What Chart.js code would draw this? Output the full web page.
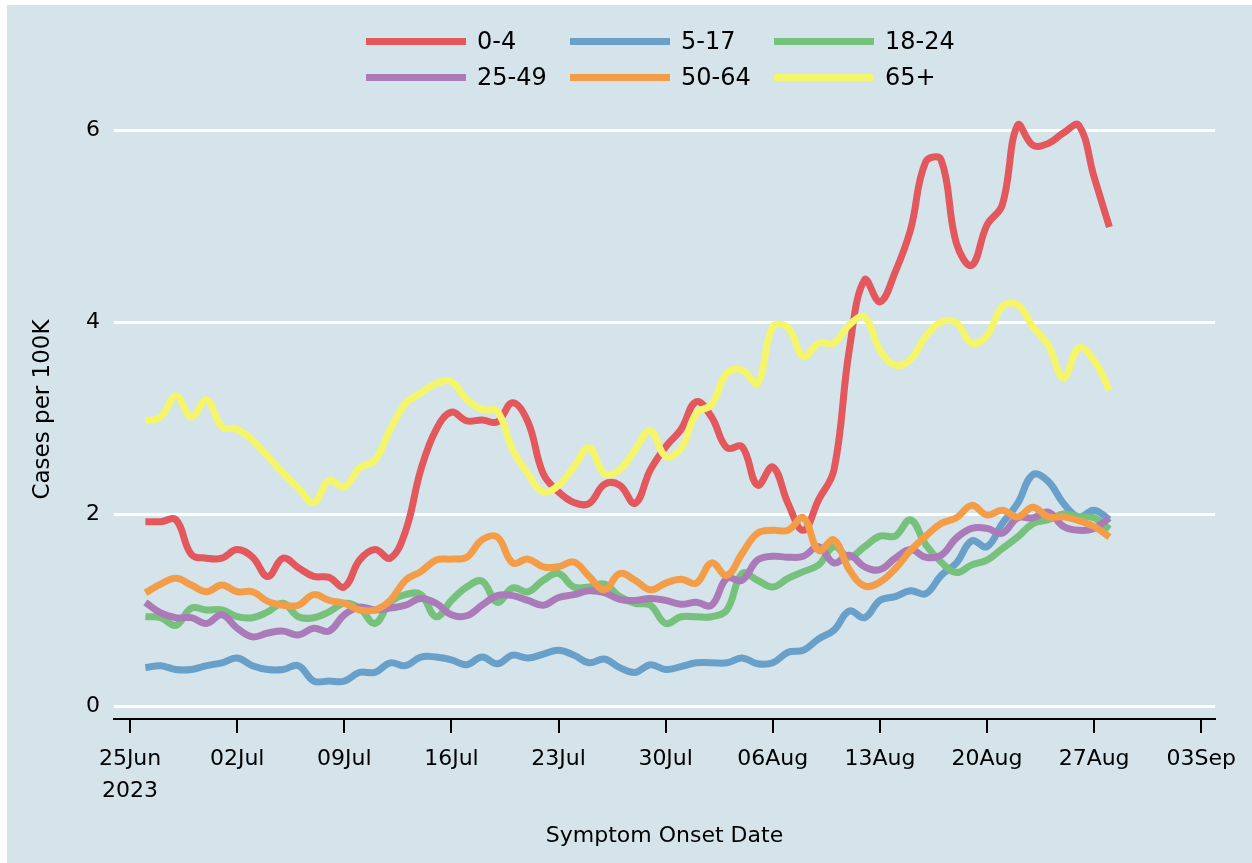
<!DOCTYPE html>
<html>
<head>
<meta charset="utf-8">
<script src="https://cdn.jsdelivr.net/npm/chart.js@4.4.1/dist/chart.umd.min.js"></script>
<style>
    html, body { margin: 0; padding: 0; background: #fff; }
    #frame { position: absolute; left: 7px; top: 5px; width: 1245px; height: 858px; background: #d5e3ea; }
    #chart { position: absolute; left: 0; top: 0; }
    #legend { position: absolute; left: 359px; top: 18px; display: grid; grid-template-columns: 204px 204px 204px; }
    .item { display: flex; align-items: center; height: 36px; }
    .swatch { width: 100px; height: 7px; margin-right: 11px; }
    .item span { font: 24px "DejaVu Sans"; color: #000; }
</style>
</head>
<body>
<div id="frame">
    <canvas id="chart" width="1245" height="858"></canvas>
    <div id="legend"></div>
</div>
<script>
// day offsets from 25Jun2023; data runs 26Jun .. 28Aug
const firstDay = 1;

const groups = ['0-4', '5-17', '18-24', '25-49', '50-64', '65+'];
const colors = ['#e2585c', '#68a0ca', '#76c17b', '#aa7bb8', '#f49d48', '#f4f56b'];

const age0_4 = [1.92,1.92,1.94,1.58,1.54,1.54,1.63,1.55,1.35,1.54, 1.44,1.35,1.34,1.24,1.52,1.63,1.54,1.82,2.46,2.88, 3.06,2.97,2.98,2.96,3.16,2.96,2.42,2.23,2.12,2.11, 2.31,2.30,2.11,2.46,2.70,2.88,3.17,3.01,2.69,2.70, 2.30,2.49,2.11,1.83,2.15,2.46,3.71,4.44,4.21,4.52, 4.96,5.67,5.69,4.82,4.59,5.01,5.22,6.05,5.84,5.86, 5.97,6.05,5.51,4.99];
const age5_17 = [0.40,0.42,0.38,0.38,0.42,0.45,0.50,0.42,0.38,0.38, 0.42,0.26,0.26,0.26,0.35,0.35,0.45,0.42,0.51,0.51, 0.48,0.43,0.51,0.44,0.53,0.50,0.54,0.58,0.53,0.45, 0.49,0.40,0.35,0.43,0.38,0.41,0.45,0.45,0.45,0.50, 0.44,0.45,0.56,0.58,0.70,0.79,0.99,0.92,1.10,1.14, 1.20,1.17,1.36,1.49,1.72,1.66,1.90,2.11,2.41,2.34, 2.11,1.97,2.04,1.94];
const age18_24 = [0.93,0.92,0.84,1.02,1.00,1.00,0.93,0.92,0.98,1.07, 0.93,0.92,0.98,1.07,1.02,0.86,1.08,1.16,1.16,0.93, 1.10,1.24,1.30,1.08,1.23,1.19,1.31,1.38,1.24,1.24, 1.27,1.14,1.07,1.05,0.86,0.93,0.93,0.93,1.00,1.38, 1.31,1.24,1.33,1.40,1.47,1.66,1.55,1.66,1.77,1.77, 1.94,1.68,1.50,1.39,1.47,1.52,1.64,1.76,1.90,1.94, 2.00,1.97,1.96,1.84];
const age25_49 = [1.08,0.97,0.92,0.92,0.86,0.95,0.81,0.72,0.76,0.78, 0.74,0.81,0.78,0.95,1.03,1.00,1.02,1.05,1.12,1.07, 0.95,0.94,1.05,1.15,1.15,1.10,1.05,1.13,1.16,1.20, 1.18,1.11,1.10,1.12,1.10,1.06,1.08,1.05,1.33,1.31, 1.52,1.56,1.55,1.56,1.66,1.49,1.57,1.45,1.42,1.54, 1.63,1.55,1.57,1.75,1.85,1.85,1.80,1.96,1.96,2.02, 1.87,1.83,1.85,1.96];
const age50_64 = [1.18,1.27,1.33,1.26,1.19,1.26,1.19,1.19,1.09,1.05, 1.05,1.16,1.10,1.07,1.00,1.00,1.10,1.31,1.40,1.52, 1.53,1.55,1.73,1.76,1.49,1.53,1.45,1.45,1.50,1.35, 1.21,1.38,1.31,1.21,1.28,1.32,1.28,1.49,1.36,1.59, 1.80,1.83,1.83,1.96,1.62,1.73,1.42,1.25,1.29,1.43, 1.62,1.77,1.90,1.96,2.09,1.99,2.04,1.97,2.07,1.97, 1.97,1.93,1.87,1.76];
const age65 = [2.97,3.01,3.23,3.01,3.19,2.91,2.88,2.77,2.60,2.43, 2.27,2.12,2.35,2.28,2.48,2.56,2.88,3.15,3.26,3.36, 3.38,3.19,3.09,3.07,2.67,2.42,2.23,2.30,2.49,2.69, 2.42,2.46,2.67,2.87,2.60,2.68,3.05,3.14,3.47,3.50, 3.36,3.95,3.94,3.64,3.78,3.78,3.97,4.05,3.71,3.55, 3.61,3.85,4.00,3.99,3.78,3.86,4.16,4.18,3.95,3.76, 3.42,3.73,3.60,3.29];

const series = [age0_4, age5_17, age18_24, age25_49, age50_64, age65];

const xTicks = [0, 7, 14, 21, 28, 35, 42, 49, 56, 63, 70];
const xTickLabels = [['25Jun', '2023'], '02Jul', '09Jul', '16Jul', '23Jul', '30Jul', '06Aug', '13Aug', '20Aug', '27Aug', '03Sep'];
const yTicks = [0, 2, 4, 6];

const font = "DejaVu Sans";

// legend (html)
const legend = document.getElementById("legend");
groups.forEach((g, i) => {
    const it = document.createElement("div");
    it.className = "item";
    it.innerHTML = '<div class="swatch" style="background:' + colors[i] + '"></div><span>' + g + '</span>';
    legend.appendChild(it);
});

const datasets = series.map((vals, i) => ({
    label: groups[i],
    data: vals.map((v, j) => ({ x: firstDay + j, y: v })),
    borderColor: colors[i],
    borderWidth: 7,
    pointRadius: 0,
    tension: 0.4,
    fill: false,
    borderJoinStyle: 'round',
    order: -i
}));

const ctx = document.getElementById("chart").getContext("2d");
new Chart(ctx, {
    type: 'line',
    data: { datasets: datasets },
    options: {
        responsive: false,
        animation: false,
        events: [],
        layout: { padding: { top: 95, right: 37, left: 0, bottom: 0 } },
        plugins: { legend: { display: false }, tooltip: { enabled: false } },
        scales: {
            x: {
                type: 'linear',
                min: -1.05,
                max: 70.9,
                afterBuildTicks: s => { s.ticks = xTicks.map(v => ({ value: v })); },
                afterFit: s => { s.height = 144; },
                grid: { drawOnChartArea: false, drawTicks: true, tickLength: 14, color: '#000', lineWidth: 2 },
                border: { display: true, color: '#000', width: 2 },
                ticks: {
                    padding: 10, color: '#000', maxRotation: 0, autoSkip: false,
                    font: { family: font, size: 22, lineHeight: 1.45 },
                    callback: (v, i) => xTickLabels[i]
                },
                title: {
                    display: true, text: 'Symptom Onset Date', color: '#000',
                    font: { family: font, size: 22 }, padding: { bottom: 14 }
                }
            },
            y: {
                min: -13 / 96,
                max: 606 / 96,
                afterBuildTicks: s => { s.ticks = yTicks.map(v => ({ value: v })); },
                afterFit: s => { s.width = 107; },
                grid: { color: '#fff', lineWidth: 3, drawTicks: false },
                border: { display: false },
                ticks: { padding: 14, color: '#000', font: { family: font, size: 22 } },
                title: {
                    display: true, text: 'Cases per 100K', color: '#000',
                    font: { family: font, size: 23 }, padding: { top: 22 }
                }
            }
        }
    }
});
</script>
</body>
</html>
